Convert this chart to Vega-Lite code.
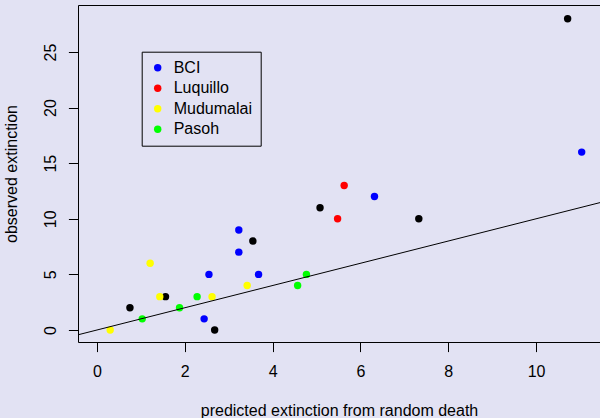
{
  "$schema": "https://vega.github.io/schema/vega-lite/v6.json",
  "width": 523,
  "height": 337,
  "autosize": {"type": "none"},
  "padding": {"left": 78, "top": 5, "right": 0, "bottom": 76},
  "background": "#e2e2f3",
  "config": {
    "view": {"stroke": "#000000", "strokeWidth": 1, "fill": null},
    "font": "Liberation Sans",
    "axis": {"grid": false, "domain": false, "tickColor": "#000000", "tickSize": 9.6, "tickWidth": 1, "labelFont": "Liberation Sans", "labelFontSize": 16, "labelColor": "#000000", "titleFont": "Liberation Sans", "titleFontSize": 16, "titleFontWeight": "normal", "titleColor": "#000000"}
  },
  "layer": [
    {
      "data": {"values": [
        {"pred": 0.75, "obs": 2, "site": "Other"},
        {"pred": 1.56, "obs": 3, "site": "Other"},
        {"pred": 2.68, "obs": 0, "site": "Other"},
        {"pred": 3.55, "obs": 8, "site": "Other"},
        {"pred": 5.08, "obs": 11, "site": "Other"},
        {"pred": 7.33, "obs": 10, "site": "Other"},
        {"pred": 10.72, "obs": 28, "site": "Other"},
        {"pred": 2.44, "obs": 1, "site": "BCI"},
        {"pred": 2.55, "obs": 5, "site": "BCI"},
        {"pred": 3.23, "obs": 9, "site": "BCI"},
        {"pred": 3.23, "obs": 7, "site": "BCI"},
        {"pred": 3.68, "obs": 5, "site": "BCI"},
        {"pred": 6.32, "obs": 12, "site": "BCI"},
        {"pred": 11.04, "obs": 16, "site": "BCI"},
        {"pred": 5.48, "obs": 10, "site": "Luquillo"},
        {"pred": 5.63, "obs": 13, "site": "Luquillo"},
        {"pred": 0.30, "obs": 0, "site": "Mudumalai"},
        {"pred": 1.21, "obs": 6, "site": "Mudumalai"},
        {"pred": 1.43, "obs": 3, "site": "Mudumalai"},
        {"pred": 2.62, "obs": 3, "site": "Mudumalai"},
        {"pred": 3.42, "obs": 4, "site": "Mudumalai"},
        {"pred": 1.03, "obs": 1, "site": "Pasoh"},
        {"pred": 1.88, "obs": 2, "site": "Pasoh"},
        {"pred": 2.28, "obs": 3, "site": "Pasoh"},
        {"pred": 4.57, "obs": 4, "site": "Pasoh"},
        {"pred": 4.77, "obs": 5, "site": "Pasoh"}
      ]},
      "mark": {"type": "point", "filled": true, "size": 55, "opacity": 1, "strokeWidth": 0},
      "encoding": {
        "x": {"field": "pred", "type": "quantitative",
              "scale": {"domain": [-0.433, 11.48], "nice": false, "zero": false},
              "axis": {"values": [0, 2, 4, 6, 8, 10], "title": "predicted extinction from random death",
                       "labelBaseline": "alphabetic", "labelPadding": 25, "titleBaseline": "alphabetic",
                       "titleX": 261, "titleY": 73, "titleAlign": "center"}},
        "y": {"field": "obs", "type": "quantitative",
              "scale": {"domain": [-1.08, 29.23], "nice": false, "zero": false},
              "axis": {"values": [0, 5, 10, 15, 20, 25], "title": "observed extinction",
                       "labelAngle": -90, "labelAlign": "center", "labelBaseline": "alphabetic", "labelPadding": 13.4,
                       "titleBaseline": "alphabetic", "titleAngle": -90, "titleAlign": "center", "titleX": -61.4, "titleY": 168.5}},
        "color": {"field": "site", "type": "nominal",
                  "scale": {"domain": ["BCI", "Luquillo", "Mudumalai", "Pasoh", "Other"],
                            "range": ["#0000ff", "#ff0000", "#ffff00", "#00ff00", "#000000"]},
                  "legend": {"values": ["BCI", "Luquillo", "Mudumalai", "Pasoh"], "title": null,
                             "orient": "none", "legendX": 63.7, "legendY": 46.7,
                             "strokeColor": "#000000", "padding": 8, "rowPadding": 4.5,
                             "symbolType": "circle", "symbolSize": 55, "symbolStrokeWidth": 0, "symbolOffset": 0,
                             "labelOffset": 8, "labelFont": "Liberation Sans", "labelFontSize": 16, "labelColor": "#000000",
                             "fillColor": null}},
        "order": {"value": 0}
      }
    },
    {
      "data": {"values": [{"pred": -1, "obs": -1}, {"pred": 12, "obs": 12}]},
      "mark": {"type": "line", "color": "#000000", "strokeWidth": 1, "clip": true},
      "encoding": {
        "x": {"field": "pred", "type": "quantitative"},
        "y": {"field": "obs", "type": "quantitative"}
      }
    }
  ]
}
